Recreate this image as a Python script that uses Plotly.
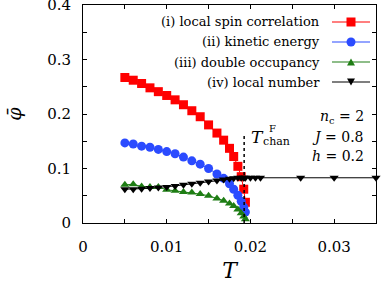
import plotly.graph_objects as go

# ---- data ----
T = [0.005, 0.006, 0.007, 0.008, 0.009, 0.010, 0.011, 0.012, 0.013, 0.014, 0.015, 0.016,
     0.0168, 0.0175, 0.0180, 0.0185, 0.0189, 0.0192, 0.0194]
spin_corr = [0.267, 0.262, 0.256, 0.248, 0.241, 0.234, 0.226, 0.217, 0.206, 0.195, 0.180, 0.165,
             0.152, 0.137, 0.122, 0.104, 0.085, 0.062, 0.038]
kinetic = [0.147, 0.145, 0.141, 0.139, 0.135, 0.131, 0.127, 0.121, 0.114, 0.108, 0.100, 0.090,
           0.082, 0.072, 0.062, 0.051, 0.040, 0.029, 0.020]
double_occ = [0.070, 0.071, 0.067, 0.066, 0.066, 0.061, 0.059, 0.057, 0.056, 0.053, 0.050, 0.045,
              0.041, 0.036, 0.031, 0.025, 0.018, 0.012, 0.007]
T_num = T + [0.0200, 0.0206, 0.0212, 0.0260, 0.0300, 0.0350]
local_num = [0.062, 0.062, 0.063, 0.064, 0.065, 0.066, 0.068, 0.070, 0.072, 0.074, 0.076, 0.078,
             0.080, 0.081, 0.082, 0.083, 0.083, 0.083, 0.083,
             0.083, 0.083, 0.083, 0.083, 0.083, 0.083]
T_chan = 0.01925
T_chan_top = 0.165

x_ticks = [0, 0.005, 0.01, 0.015, 0.02, 0.025, 0.03, 0.035]
x_ticktext = ["0", " ", "0.01", " ", "0.02", " ", "0.03", " "]
y_ticks = [0, 0.05, 0.1, 0.15, 0.2, 0.25, 0.3, 0.35, 0.4]
y_ticktext = ["0", " ", "0.1", " ", "0.2", " ", "0.3", " ", "0.4"]

labels = ["(i) local spin correlation", "(ii) kinetic energy",
          "(iii) double occupancy", "(iv) local number"]
colors = ["#ff0000", "#2b4bff", "#1e7d14", "#000000"]
symbols = ["square", "circle", "triangle-up", "triangle-down"]

FONT = "DejaVu Serif"
W, H = 382, 283
ML, MR, MT, MB = 83, 6, 5, 60
PW, PH = W - ML - MR, H - MT - MB

fig = go.Figure()
series = [(T, spin_corr), (T, kinetic), (T, double_occ), (T_num, local_num)]
sizes = [9, 9, 8, 8]
for (xs, ys), c, s, sz, lab in zip(series, colors, symbols, sizes, labels):
    fig.add_trace(go.Scatter(x=xs, y=ys, mode="lines+markers", name=lab,
                             line=dict(color=c, width=1),
                             marker=dict(symbol=s, size=sz, color=c, line=dict(width=0)),
                             cliponaxis=False, showlegend=False))

# vertical dotted line at T_chan
fig.add_shape(type="line", x0=T_chan, x1=T_chan, y0=0, y1=T_chan_top,
              line=dict(color="black", width=1.5, dash="dot"), layer="above")

# custom legend (text on left, sample on right)
def px2paper(px, py):
    return (px - ML) / PW, (H - MB - py) / PH

rows_py = [22, 42, 62, 82]
for lab, c, s, py in zip(labels, colors, symbols, rows_py):
    tx, ty = px2paper(322, py)
    fig.add_annotation(x=tx, y=ty, xref="paper", yref="paper", text=lab, showarrow=False,
                       xanchor="right", yanchor="middle",
                       font=dict(family=FONT, size=13, color="black"))
    x0, y0 = px2paper(332, py)
    x1, _ = px2paper(370, py)
    fig.add_shape(type="line", xref="paper", yref="paper", x0=x0, x1=x1, y0=y0, y1=y0,
                  line=dict(color=c, width=1.2))
    cx, cy = px2paper(351, py)
    hx, hy = 4.5 / PW, 4.5 / PH
    if s == "square":
        fig.add_shape(type="rect", xref="paper", yref="paper", x0=cx - hx, x1=cx + hx,
                      y0=cy - hy, y1=cy + hy, fillcolor=c, line=dict(width=0))
    elif s == "circle":
        fig.add_shape(type="circle", xref="paper", yref="paper", x0=cx - hx, x1=cx + hx,
                      y0=cy - hy, y1=cy + hy, fillcolor=c, line=dict(width=0))
    else:
        hx3, hy3 = 4 / PW, 3.5 / PH
        if s == "triangle-up":
            path = f"M {cx-hx3} {cy-hy3} L {cx+hx3} {cy-hy3} L {cx} {cy+hy3} Z"
        else:
            path = f"M {cx-hx3} {cy+hy3} L {cx+hx3} {cy+hy3} L {cx} {cy-hy3} Z"
        fig.add_shape(type="path", xref="paper", yref="paper", path=path,
                      fillcolor=c, line=dict(width=0))

# T_chan^F label
fig.add_annotation(x=T_chan, y=0.157, xref="x", yref="y", text="<i>T</i>", showarrow=False,
                   xanchor="left", yanchor="middle", xshift=5,
                   font=dict(family=FONT, size=17, color="black"))
fig.add_annotation(x=T_chan, y=0.173, xref="x", yref="y", text="F", showarrow=False,
                   xanchor="left", yanchor="middle", xshift=23,
                   font=dict(family=FONT, size=10, color="black"))
fig.add_annotation(x=T_chan, y=0.150, xref="x", yref="y", text="chan", showarrow=False,
                   xanchor="left", yanchor="middle", xshift=17,
                   font=dict(family=FONT, size=11, color="black"))

# parameters
params = ["<i>n</i><sub>c</sub> = 2", "<i>J</i> = 0.8", "<i>h</i> = 0.2"]
for txt, py in zip(params, [117, 137, 156]):
    tx, ty = px2paper(366, py)
    fig.add_annotation(x=tx, y=ty, xref="paper", yref="paper", text=txt, showarrow=False,
                       xanchor="right", yanchor="middle",
                       font=dict(family=FONT, size=14, color="black"))

axis_common = dict(showgrid=False, zeroline=False, showline=True, linecolor="black",
                   linewidth=1, mirror="ticks", ticks="inside", ticklen=4,
                   tickcolor="black", tickwidth=1, automargin=False,
                   ticklabeloverflow="allow",
                   tickfont=dict(family=FONT, size=15, color="black"))
fig.update_xaxes(range=[0, 0.035], tickvals=x_ticks, ticktext=x_ticktext,
                 title=dict(text="<i>T</i>", font=dict(family=FONT, size=22, color="black"),
                            standoff=10),
                 ticklabelstandoff=10, **axis_common)
fig.update_yaxes(range=[0, 0.4], tickvals=y_ticks, ticktext=y_ticktext,
                 title=dict(text="<i>φ̄</i>", font=dict(family=FONT, size=19, color="black"),
                            standoff=20),
                 ticklabelstandoff=8, **axis_common)

fig.update_layout(width=W, height=H, margin=dict(l=ML, r=MR, t=MT, b=MB),
                  plot_bgcolor="white", paper_bgcolor="white", showlegend=False,
                  hovermode=False)

fig.write_html("out.html", config={"displayModeBar": False, "staticPlot": True},
               post_script="document.body.style.margin='0';")
